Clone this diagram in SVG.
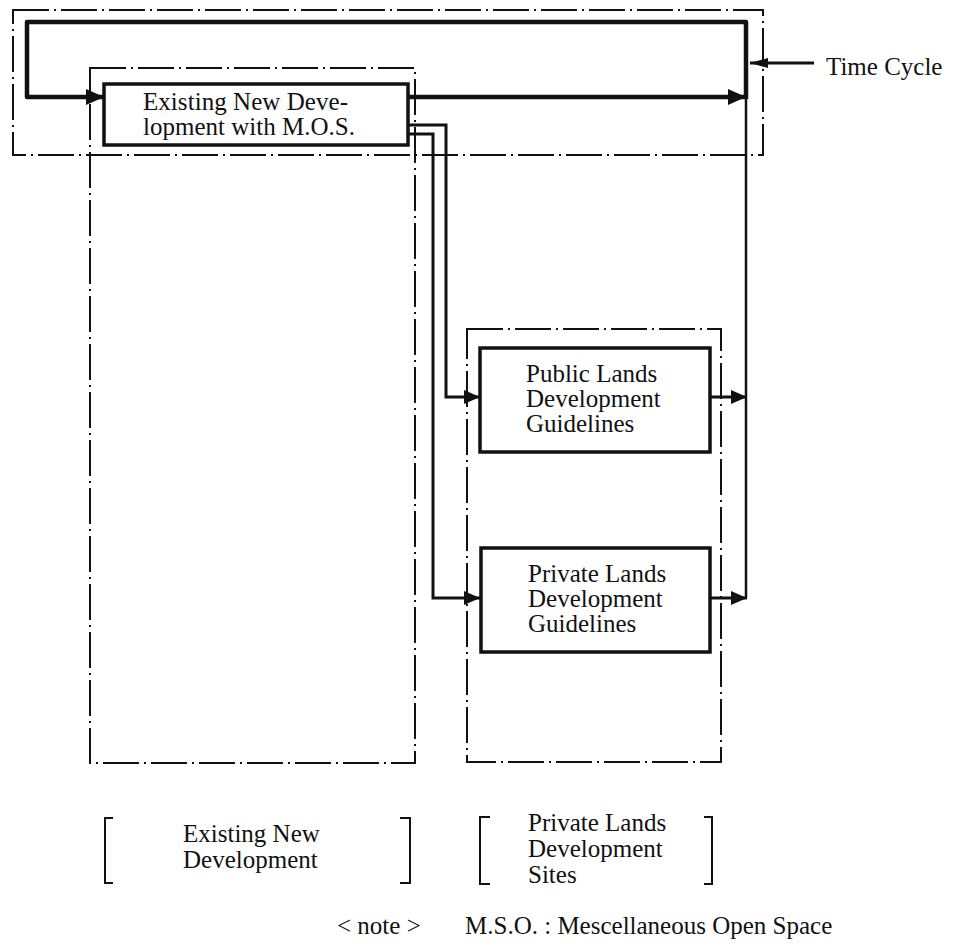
<svg xmlns="http://www.w3.org/2000/svg" width="959" height="947" viewBox="0 0 959 947">
<style>
text{font-family:"Liberation Serif","Times New Roman",serif;font-size:25px;fill:#111}
.dd{fill:none;stroke:#111;stroke-width:2;stroke-dasharray:36 5 2 5}
.box{fill:#fff;stroke:#111;stroke-width:3.5}
.thick{fill:none;stroke:#111;stroke-width:4.5;stroke-linejoin:round}
.mid{fill:none;stroke:#111;stroke-width:3;stroke-linejoin:miter}
.thin{fill:none;stroke:#111;stroke-width:2.5}
.br{fill:none;stroke:#111;stroke-width:2}
</style>
<defs>
<marker id="ah" markerUnits="userSpaceOnUse" markerWidth="20" markerHeight="18" refX="18" refY="9" orient="auto"><path d="M0,1 L18,9 L0,17 z" fill="#111"/></marker>
<marker id="as" markerUnits="userSpaceOnUse" markerWidth="18" markerHeight="16" refX="16" refY="8" orient="auto"><path d="M0,1 L16,8 L0,15 z" fill="#111"/></marker>
<marker id="at" markerUnits="userSpaceOnUse" markerWidth="20" markerHeight="12" refX="18" refY="6" orient="auto"><path d="M0,1 L18,6 L0,11 z" fill="#111"/></marker>
</defs>
<rect width="959" height="947" fill="#fff"/>
<g id="frames">
<rect class="dd" x="13" y="10" width="750" height="145"/>
<rect class="dd" x="90" y="68" width="325" height="695"/>
<rect class="dd" x="467" y="329" width="254" height="433"/>
</g>
<g id="connectors">
<path class="thick" d="M746,99 V22 H27 V97 H104" marker-end="url(#ah)"/>
<path class="thick" d="M408,97 H746" marker-end="url(#ah)"/>
<path class="thin" d="M746,97 V598"/>
<path class="mid" d="M408,125 H446 V397 H480" marker-end="url(#as)"/>
<path class="mid" d="M408,134 H433 V598 H480" marker-end="url(#as)"/>
<path class="mid" d="M710,397 H747" marker-end="url(#as)"/>
<path class="mid" d="M710,598 H747" marker-end="url(#as)"/>
<path class="mid" d="M814,63 H750" marker-end="url(#at)"/>
</g>
<g id="existing-mos">
<rect class="box" x="104" y="84" width="304" height="61"/>
<text x="143" y="110" font-size="24" textLength="205">Existing New Deve-</text>
<text x="143" y="135" font-size="24" textLength="212">lopment with M.O.S.</text>
</g>
<g id="public-guidelines">
<rect class="box" x="480" y="348" width="230" height="104"/>
<text x="526" y="382">Public Lands</text>
<text x="526" y="407">Development</text>
<text x="526" y="432">Guidelines</text>
</g>
<g id="private-guidelines">
<rect class="box" x="481" y="548" width="229" height="104"/>
<text x="528" y="582">Private Lands</text>
<text x="528" y="607">Development</text>
<text x="528" y="632">Guidelines</text>
</g>
<g id="time-cycle">
<text x="826" y="75" font-size="26">Time Cycle</text>
</g>
<g id="label-existing">
<path class="br" d="M113,818 H105 V883 H113"/>
<path class="br" d="M400,818 H410 V883 H400"/>
<text x="183" y="842">Existing New</text>
<text x="183" y="868">Development</text>
</g>
<g id="label-private">
<path class="br" d="M490,817 H480 V884 H490"/>
<path class="br" d="M704,817 H712 V884 H704"/>
<text x="528" y="831">Private Lands</text>
<text x="528" y="857">Development</text>
<text x="528" y="883">Sites</text>
</g>
<g id="note">
<text x="337" y="934">&lt; note &gt;</text>
<text x="465" y="934">M.S.O. : Mescellaneous Open Space</text>
</g>
</svg>
